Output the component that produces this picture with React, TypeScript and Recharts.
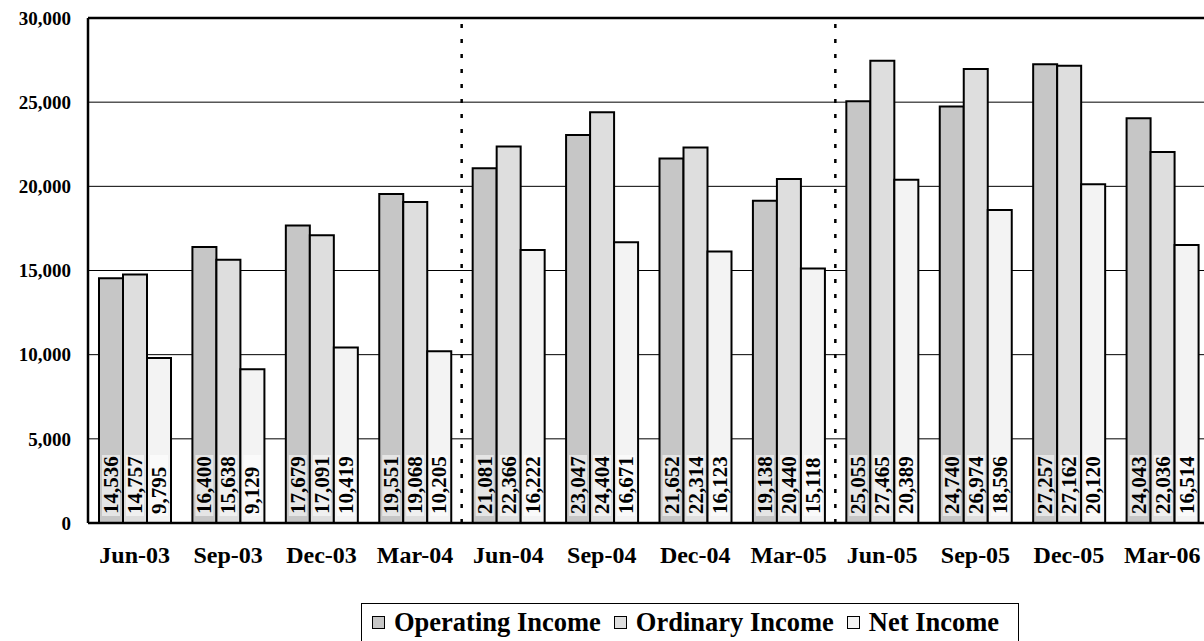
import React from 'react';
import {
  Bar,
  BarChart,
  CartesianGrid,
  LabelList,
  ReferenceLine,
  XAxis,
  YAxis,
} from 'recharts';

const quarters = [
  'Jun-03', 'Sep-03', 'Dec-03', 'Mar-04', 'Jun-04', 'Sep-04',
  'Dec-04', 'Mar-05', 'Jun-05', 'Sep-05', 'Dec-05', 'Mar-06',
];
const operatingIncome = [
  14536, 16400, 17679, 19551, 21081, 23047, 21652, 19138, 25055, 24740, 27257, 24043,
];
const ordinaryIncome = [
  14757, 15638, 17091, 19068, 22366, 24404, 22314, 20440, 27465, 26974, 27162, 22036,
];
const netIncome = [
  9795, 9129, 10419, 10205, 16222, 16671, 16123, 15118, 20389, 18596, 20120, 16514,
];
const yTicks = [0, 5000, 10000, 15000, 20000, 25000, 30000];
// fiscal year breaks (between Mar and Jun)
const yearBreaks = [4, 8];

const data = quarters.map((q, i) => ({
  quarter: q,
  operating: operatingIncome[i],
  ordinary: ordinaryIncome[i],
  net: netIncome[i],
  pos: i,
}));

const serif = "'Liberation Serif', 'Times New Roman', serif";

const series = [
  { key: 'operating', name: 'Operating Income', fill: '#c6c6c6' },
  { key: 'ordinary', name: 'Ordinary Income', fill: '#dedede' },
  { key: 'net', name: 'Net Income', fill: '#f3f3f3' },
];

const renderValue = (props: any) => {
  const { x, y, width, height, value } = props;
  const cx = Number(x) + Number(width) / 2;
  const bottom = Number(y) + Number(height) - 9;
  const label = Number(value).toLocaleString('en-US');
  return (
    <g>
      <rect
        x={cx - 9}
        y={bottom - 59}
        width={18}
        height={61}
        fill='#fff'
        fillOpacity={0.55}
      />
      <text
        x={cx}
        y={bottom}
        transform={`rotate(-90 ${cx} ${bottom})`}
        textAnchor='start'
        dominantBaseline='central'
        fontFamily={serif}
        fontWeight='bold'
        fontSize={21}
        fill='#000'
      >
        {label}
      </text>
    </g>
  );
};

export default function App() {
  return (
    <div
      style={{
        position: 'absolute',
        left: 0,
        top: 0,
        width: 1204,
        height: 641,
        overflow: 'hidden',
        background: '#fff',
      }}
    >
      <BarChart
        width={1230}
        height={641}
        data={data}
        margin={{ top: 18, right: 21, left: 0, bottom: 78 }}
        barCategoryGap={11}
        barGap={0}
      >
        <CartesianGrid vertical={false} stroke='#000' strokeWidth={1} />
        <XAxis
          dataKey='quarter'
          height={40}
          tickLine={false}
          tickSize={0}
          tickMargin={23}
          axisLine={{ stroke: '#000', strokeWidth: 2.5 }}
          tick={{ fill: '#000', fontFamily: serif, fontWeight: 'bold', fontSize: 24 }}
          interval={0}
        />
        <XAxis xAxisId='pos' type='number' dataKey='pos' domain={[0, 12]} hide />
        <YAxis
          width={88}
          domain={[0, 30000]}
          ticks={yTicks}
          interval={0}
          tickLine={false}
          tickSize={0}
          tickMargin={17}
          axisLine={{ stroke: '#000', strokeWidth: 2.5 }}
          tickFormatter={(v: number) => v.toLocaleString('en-US')}
          tick={{ fill: '#000', fontFamily: serif, fontWeight: 'bold', fontSize: 19 }}
        />
        <ReferenceLine y={30000} stroke='#000' strokeWidth={2.5} />
        {yearBreaks.map((b) => (
          <ReferenceLine
            key={b}
            x={b}
            xAxisId='pos'
            stroke='#000'
            strokeWidth={2.5}
            strokeDasharray='4 11'
          />
        ))}
        {series.map((s) => (
          <Bar
            key={s.key}
            dataKey={s.key}
            name={s.name}
            fill={s.fill}
            stroke='#000'
            strokeWidth={2}
            isAnimationActive={false}
          >
            <LabelList dataKey={s.key} content={renderValue} />
          </Bar>
        ))}
      </BarChart>
      <div
        style={{
          position: 'absolute',
          left: 361,
          top: 603,
          width: 658,
          height: 50,
          border: '1px solid #000',
          display: 'flex',
          alignItems: 'flex-start',
          paddingTop: 3,
          paddingLeft: 10,
          boxSizing: 'border-box',
          fontFamily: serif,
          fontWeight: 'bold',
          fontSize: 26.5,
          color: '#000',
          whiteSpace: 'nowrap',
        }}
      >
        {series.map((s) => (
          <span
            key={s.key}
            style={{ display: 'inline-flex', alignItems: 'center', marginRight: 13 }}
          >
            <span
              style={{
                display: 'inline-block',
                boxSizing: 'border-box',
                width: 13,
                height: 13,
                border: '1.5px solid #000',
                background: s.fill,
                marginRight: 9,
              }}
            />
            {s.name}
          </span>
        ))}
      </div>
    </div>
  );
}
